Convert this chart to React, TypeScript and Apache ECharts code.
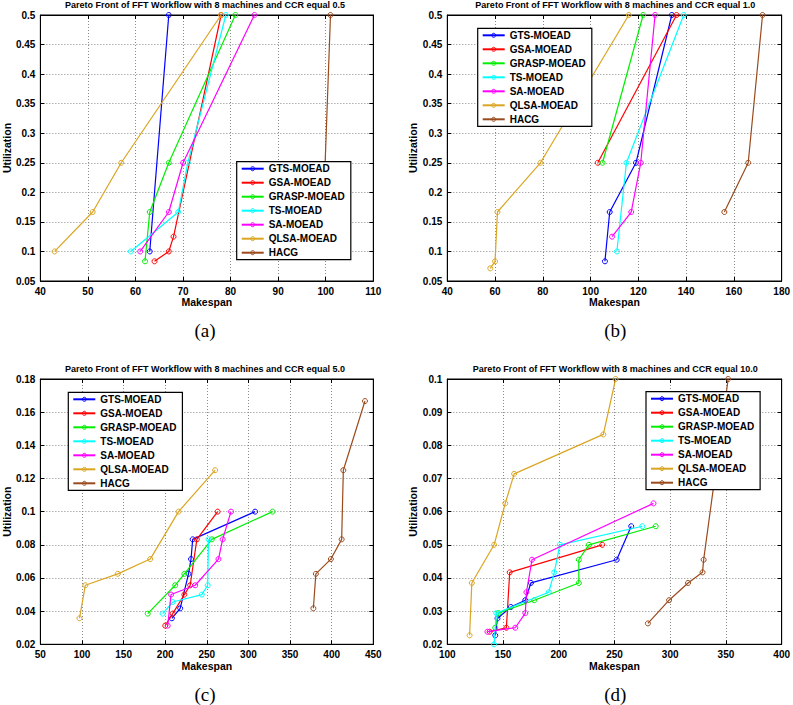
import React, { useEffect, useRef } from "react";
import * as echarts from "echarts";

// Algorithms compared in every panel, in plotting / legend order
const algorithms = ["GTS-MOEAD", "GSA-MOEAD", "GRASP-MOEAD", "TS-MOEAD", "SA-MOEAD", "QLSA-MOEAD", "HACG"];
const lineColors = ["#0000ff", "#ff0000", "#00ee00", "#00ffff", "#ff00ff", "#daa520", "#9a4a1c"];

// Pareto fronts: [makespan, utilization] per algorithm, CCR = 0.5
const frontCcr05: number[][][] = [
  [[63, 0.1], [67, 0.5]],
  [[64, 0.0833], [67, 0.1], [68, 0.125], [78, 0.5]],
  [[62, 0.0833], [63, 0.1667], [67, 0.25], [81, 0.5]],
  [[59, 0.1], [69, 0.1667], [71, 0.25], [79, 0.5]],
  [[61, 0.1], [67, 0.1667], [70, 0.25], [85, 0.5]],
  [[43, 0.1], [51, 0.1667], [57, 0.25], [78, 0.5]],
  [[99.5, 0.1667], [101, 0.5]],
];

// CCR = 1.0
const frontCcr10: number[][][] = [
  [[106, 0.0833], [108, 0.1667], [119, 0.25], [134, 0.5]],
  [[103, 0.25], [136, 0.5]],
  [[105, 0.25], [122, 0.5]],
  [[111, 0.1], [115, 0.25], [139, 0.5]],
  [[109, 0.125], [117, 0.1667], [121, 0.25], [127, 0.5]],
  [[58, 0.0714], [60, 0.0833], [61, 0.1667], [79, 0.25], [116, 0.5]],
  [[156, 0.1667], [166, 0.25], [172, 0.5]],
];

// CCR = 5.0
const frontCcr50: number[][][] = [
  [[208, 0.0357], [218, 0.0417], [228, 0.0625], [231, 0.0714], [233, 0.0833], [308, 0.1]],
  [[200, 0.03125], [209, 0.0385], [223, 0.05], [230, 0.0556], [238, 0.0833], [263, 0.1]],
  [[179, 0.0385], [212, 0.0556], [223, 0.0625], [256, 0.0833], [329, 0.1]],
  [[197, 0.0385], [209, 0.0455], [244, 0.05], [251, 0.0556], [252, 0.0833]],
  [[203, 0.03125], [207, 0.05], [236, 0.0556], [264, 0.0714], [269, 0.0833], [279, 0.1]],
  [[97, 0.0357], [104, 0.0556], [143, 0.0625], [182, 0.0714], [216, 0.1], [260, 0.125]],
  [[378, 0.0417], [381, 0.0625], [399, 0.0714], [412, 0.0833], [414, 0.125], [440, 0.1667]],
];

// CCR = 10.0
const frontCcr100: number[][][] = [
  [[143, 0.0227], [145, 0.0278], [157, 0.03125], [170, 0.0333], [175, 0.0385], [252, 0.0455], [265, 0.0556]],
  [[138, 0.0238], [153, 0.025], [156, 0.0417], [239, 0.05]],
  [[143, 0.025], [146, 0.0294], [178, 0.0333], [218, 0.0385], [218, 0.0455], [227, 0.05], [287, 0.0556]],
  [[142, 0.02], [144, 0.0294], [191, 0.0357], [196, 0.0417], [201, 0.05], [275, 0.0556]],
  [[136, 0.0238], [161, 0.025], [170, 0.0294], [171, 0.0357], [176, 0.0455], [285, 0.0625]],
  [[120, 0.0227], [122, 0.0385], [142, 0.05], [152, 0.0625], [160, 0.0714], [240, 0.0833], [251, 0.1]],
  [[280, 0.0263], [299, 0.0333], [316, 0.0385], [329, 0.0417], [330, 0.0455], [352, 0.1]],
];

const fronts = [frontCcr05, frontCcr10, frontCcr50, frontCcr100];
const ccrValues = ["0.5", "1.0", "5.0", "10.0"];
const captions = ["(a)", "(b)", "(c)", "(d)"];

// Axis ranges: [min, max, step]
const makespanRanges = [[40, 110, 10], [40, 180, 20], [50, 450, 50], [100, 400, 50]];
const utilizationRanges = [[0.05, 0.5, 0.05], [0.05, 0.5, 0.05], [0.02, 0.18, 0.02], [0.02, 0.1, 0.01]];

// Panel placement on the page
const panels = [
  { left: 36.7, top: 15, width: 336.6, height: 266, legendLeft: 236.7, legendTop: 161.7, nameGap: 27 },
  { left: 447.3, top: 15, width: 336, height: 266, legendLeft: 477.7, legendTop: 28.3, nameGap: 26 },
  { left: 36.7, top: 379, width: 336.6, height: 265.3, legendLeft: 68.3, legendTop: 392.3, nameGap: 27 },
  { left: 447.3, top: 379, width: 336, height: 265.3, legendLeft: 646, legendTop: 391.7, nameGap: 26 },
];

const SANS = "'Liberation Sans', Arial, Helvetica, sans-serif";
const fmt = (v: number) => String(parseFloat(v.toFixed(4)));

export default function App() {
  const ref = useRef<HTMLDivElement>(null);

  useEffect(() => {
    if (!ref.current) return;
    const chart = echarts.init(ref.current, undefined, { renderer: "svg" });

    const grid: any[] = [];
    const xAxis: any[] = [];
    const yAxis: any[] = [];
    const series: any[] = [];
    const legend: any[] = [];
    const graphic: any[] = [];

    const axisLine = { show: true, onZero: false, lineStyle: { color: "#000", width: 1 } };
    const tick = { show: true, inside: true, length: 4, lineStyle: { color: "#000" } };
    const label = { color: "#000", fontFamily: SANS, fontWeight: "bold", fontSize: 10 };
    const dotted = { show: true, lineStyle: { color: "#8a8a8a", type: [1, 2], width: 1 } };

    panels.forEach((p, i) => {
      grid.push({ left: p.left, top: p.top, width: p.width, height: p.height, show: true, borderColor: "#000", borderWidth: 1, backgroundColor: "#fff" });
      const [xmin, xmax, xstep] = makespanRanges[i];
      const [ymin, ymax, ystep] = utilizationRanges[i];
      xAxis[i] = {
        gridIndex: i, type: "value", position: "bottom", min: xmin, max: xmax, interval: xstep,
        axisLine, axisTick: tick, splitLine: dotted,
        axisLabel: { ...label, margin: 5, formatter: fmt },
        name: "Makespan", nameLocation: "middle", nameGap: 15,
        nameTextStyle: { color: "#000", fontFamily: SANS, fontWeight: "bold", fontSize: 10.5 },
      };
      yAxis[i] = {
        gridIndex: i, type: "value", position: "left", min: ymin, max: ymax, interval: ystep,
        axisLine, axisTick: tick, splitLine: dotted,
        axisLabel: { ...label, margin: 5, formatter: fmt },
        name: "Utilization", nameLocation: "middle", nameGap: p.nameGap,
        nameTextStyle: { color: "#000", fontFamily: SANS, fontWeight: "bold", fontSize: 10.5 },
      };
      // mirrored axes for the ticks on the top and right edges of the box
      xAxis[i + 4] = {
        gridIndex: i, type: "value", position: "top", min: xmin, max: xmax, interval: xstep,
        axisLine, axisTick: tick, splitLine: { show: false }, axisLabel: { show: false },
      };
      yAxis[i + 4] = {
        gridIndex: i, type: "value", position: "right", min: ymin, max: ymax, interval: ystep,
        axisLine, axisTick: tick, splitLine: { show: false }, axisLabel: { show: false },
      };

      fronts[i].forEach((pts, k) => {
        series.push({
          type: "line", name: algorithms[k], xAxisIndex: i, yAxisIndex: i,
          data: pts, symbol: "circle", symbolSize: 5, showAllSymbol: true, clip: false,
          lineStyle: { color: lineColors[k], width: 1.2 },
          itemStyle: { color: "rgba(255,255,255,0)", borderColor: lineColors[k], borderWidth: 1 },
          emphasis: { disabled: true }, z: 2 + k * 0.01,
        });
      });

      legend.push({
        orient: "vertical", left: p.legendLeft, top: p.legendTop,
        data: algorithms, itemWidth: 22, itemHeight: 5, itemGap: 4,
        padding: [2, 6, 2, 4], borderColor: "#000", borderWidth: 1.2, backgroundColor: "#fff",
        itemStyle: { color: "rgba(255,255,255,0)", borderColor: "inherit", borderWidth: 1 },
        textStyle: { color: "#000", fontFamily: SANS, fontWeight: "bold", fontSize: 10, lineHeight: 10 },
        selectedMode: false, z: 10,
      });

      const cx = p.left + p.width / 2;
      graphic.push({
        type: "text", x: cx, y: p.top - 10, z: 20,
        style: {
          text: `Pareto Front of FFT Workflow with 8 machines and CCR equal ${ccrValues[i]}`,
          fill: "#000", font: `bold 9px ${SANS}`, textAlign: "center", textVerticalAlign: "middle", verticalAlign: "middle",
        },
      });
      graphic.push({
        type: "text", x: cx, y: p.top + 315, z: 20,
        style: {
          text: captions[i], fill: "#000", font: `19px 'Liberation Serif', 'DejaVu Serif', serif`,
          textAlign: "center", textVerticalAlign: "middle", verticalAlign: "middle",
        },
      });
    });

    chart.setOption({
      animation: false,
      backgroundColor: "#fff",
      grid, xAxis, yAxis, series, legend, graphic,
    });

    return () => chart.dispose();
  }, []);

  return <div ref={ref} style={{ position: "fixed", left: 0, top: 0, width: 793, height: 705 }} />;
}
